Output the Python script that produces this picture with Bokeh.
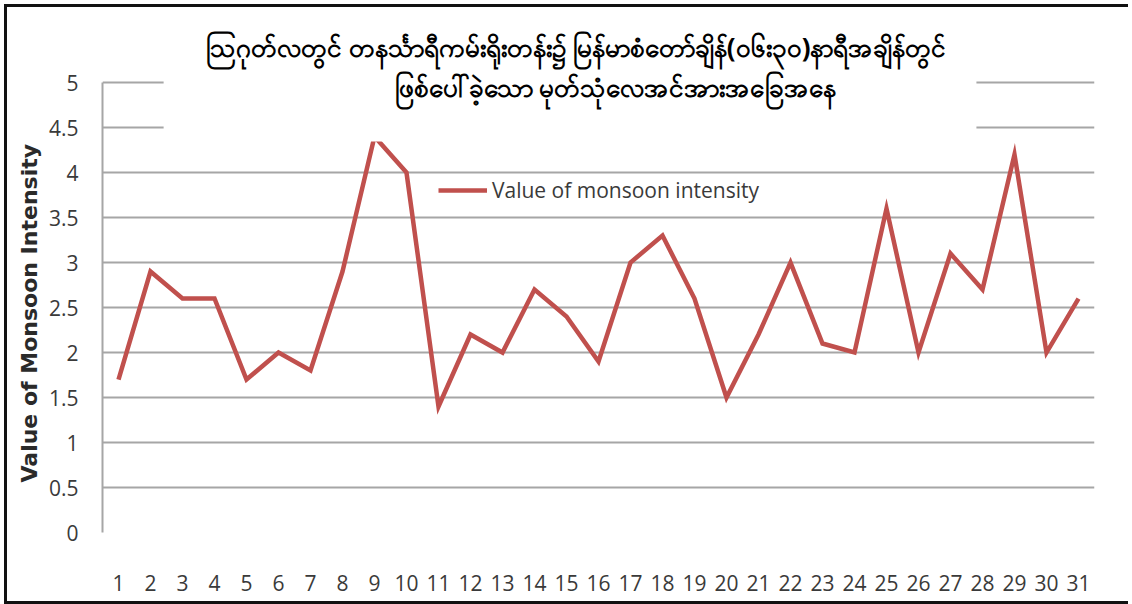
from bokeh.plotting import figure
from bokeh.models import (Range1d, FixedTicker, BoxAnnotation, Label, Legend,
                          LegendItem, ColumnDataSource, Title)
from bokeh.embed import file_html
from bokeh.resources import INLINE

# ---- data ----
days = list(range(1, 32))
intensity = [1.7, 2.9, 2.6, 2.6, 1.7, 2.0, 1.8, 2.9, 4.4, 4.0,
             1.4, 2.2, 2.0, 2.7, 2.4, 1.9, 3.0, 3.3, 2.6, 1.5,
             2.2, 3.0, 2.1, 2.0, 3.6, 2.0, 3.1, 2.7, 4.2, 2.0, 2.6]
y_ticks = [0, 0.5, 1, 1.5, 2, 2.5, 3, 3.5, 4, 4.5, 5]
y_tick_labels = ["0", "0.5", "1", "1.5", "2", "2.5", "3", "3.5", "4", "4.5", "5"]
series_name = "Value of monsoon intensity"
y_title = "Value of Monsoon Intensity"
title_line1 = "ဩဂုတ်လတွင် တနင်္သာရီကမ်းရိုးတန်း၌ မြန်မာစံတော်ချိန်(၀၆း၃၀)နာရီအချိန်တွင်"
title_line2 = "ဖြစ်ပေါ်ခဲ့သော မုတ်သုံလေအင်အားအခြေအနေ"

TICK_FONT = "Open Sans"
RED = "#C0504D"
GRID = "#a6a6a6"
TXT = "#3a3a3a"

src = ColumnDataSource(dict(day=days, intensity=intensity))

p = figure(width=1124, height=594, output_backend="svg", toolbar_location=None,
           x_range=Range1d(0.5, 31.5), y_range=Range1d(0, 5.69),
           min_border_left=95, min_border_right=37, min_border_top=13,
           min_border_bottom=69)
p.outline_line_color = None
p.background_fill_color = "white"
p.border_fill_color = "white"
p.styles = {"margin-left": "7px", "margin-top": "7px",
            "box-shadow": "-3px -3px 0 0 #111, -3px 3px 0 0 #111"}

# grid
p.xgrid.grid_line_color = None
p.ygrid.ticker = FixedTicker(ticks=y_ticks)
p.ygrid.grid_line_color = GRID
p.ygrid.grid_line_width = 2

# y axis
ya = p.yaxis[0]
ya.ticker = FixedTicker(ticks=y_ticks)
ya.bounds = (y_ticks[0], y_ticks[-1])
ya.major_label_overrides = {t: l for t, l in zip(y_ticks, y_tick_labels)}
ya.axis_line_color = GRID
ya.axis_line_width = 2
ya.major_tick_line_color = None
ya.minor_tick_line_color = None
ya.major_tick_out = 0
ya.major_tick_in = 0
ya.major_label_standoff = 24
ya.major_label_text_font = TICK_FONT
ya.major_label_text_font_size = "21px"
ya.major_label_text_color = TXT

# y axis title (kept beside the 0..5 part of the axis)
p.add_layout(Title(text=y_title, align="left", offset=50, standoff=8,
                   text_font="DejaVu Sans", text_font_style="bold",
                   text_font_size="22px", text_color="#2a2a2a"), "left")

# x axis
xa = p.xaxis[0]
xa.ticker = FixedTicker(ticks=days)
xa.axis_line_color = None
xa.major_tick_line_color = None
xa.minor_tick_line_color = None
xa.major_tick_out = 0
xa.major_tick_in = 0
xa.major_label_standoff = 42
xa.major_label_text_font = TICK_FONT
xa.major_label_text_font_size = "21px"
xa.major_label_text_color = TXT

# series
r = p.line("day", "intensity", source=src, line_color=RED, line_width=4.5,
           line_join="miter")

# title background (hides grid lines behind the title)
p.add_layout(BoxAnnotation(left=2.41, right=27.81, bottom=4.345, top=6.0,
                           fill_color="white", fill_alpha=1.0,
                           line_color=None))

# title lines
for txt, xc, yc in [(title_line1, 15.31, 5.397), (title_line2, 16.53, 4.952)]:
    p.add_layout(Label(x=xc, y=yc, text=txt, text_align="center",
                       text_baseline="middle", text_font_size="26px",
                       text_font_style="bold", text_color="black",
                       text_font="Noto Sans"))

legend = Legend(items=[LegendItem(label=series_name, renderers=[r])],
                location=(336, 328), border_line_color=None,
                background_fill_alpha=0, padding=0, margin=0, spacing=0,
                glyph_width=49, glyph_height=20, label_height=20,
                label_standoff=5, label_text_font=TICK_FONT,
                label_text_font_size="21px", label_text_color=TXT)
p.add_layout(legend)

open("out.html", "w").write(file_html(p, INLINE))
